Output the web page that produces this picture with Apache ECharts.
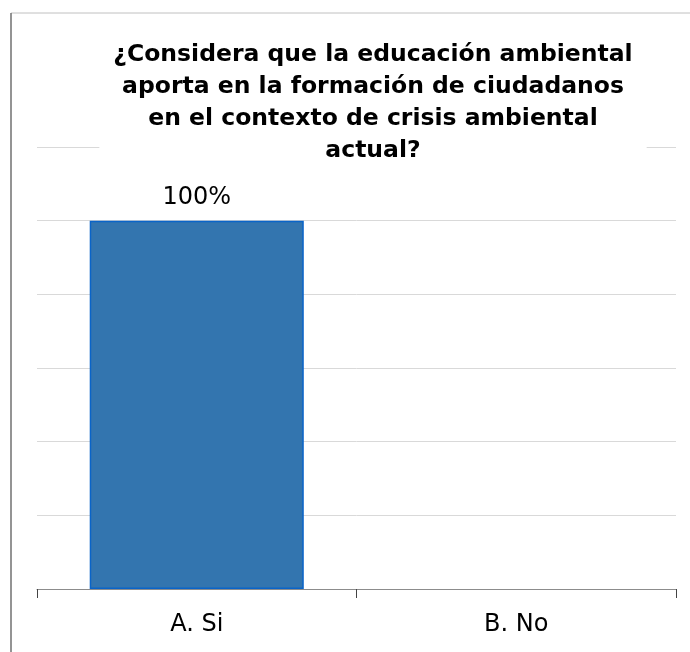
<!DOCTYPE html>
<html>
<head>
<meta charset="utf-8">
<script src="https://cdn.jsdelivr.net/npm/echarts@6/dist/echarts.min.js"></script>
<style>
html, body { margin: 0; padding: 0; background: #fff; }
#chart { width: 690px; height: 652px; }
</style>
</head>
<body>
<div id="chart"></div>
<script>
var categories = ['A. Si', 'B. No'];
var values = [1.0, 0];
var titleText = '¿Considera que la educación ambiental\naporta en la formación de ciudadanos\nen el contexto de crisis ambiental\nactual?';

// barras: sin borde cuando el valor es cero
var barData = values.map(function(v) {
	return {
		value : v,
		itemStyle : { borderWidth : v > 0 ? 1.5 : 0 }
	};
});

var myChart = echarts.init(document.getElementById('chart'));
var option = {
	animation : false,
	backgroundColor : '#fff',
	title : {
		text : titleText,
		left : 359,
		top : 31,
		textAlign : 'center',
		padding : [8, 14, 6, 14],
		backgroundColor : '#fff',
		textStyle : {
			fontFamily : 'DejaVu Sans',
			fontWeight : 'bold',
			fontSize : 23.5,
			lineHeight : 32,
			color : '#000'
		},
		z : 10
	},
	graphic : [{
		type : 'line',
		shape : { x1 : 11, y1 : 13, x2 : 700, y2 : 13 },
		style : { stroke : '#c0c0c0', lineWidth : 1 }
	}, {
		type : 'line',
		shape : { x1 : 11, y1 : 13, x2 : 11, y2 : 700 },
		style : { stroke : '#707070', lineWidth : 1.5 }
	}],
	grid : {
		left : 37,
		right : 14,
		top : 147,
		bottom : 63
	},
	xAxis : {
		type : 'category',
		data : categories,
		axisLine : { lineStyle : { color : '#8c8c8c', width : 1 } },
		axisTick : { show : true, length : 9, lineStyle : { color : '#444' } },
		axisLabel : {
			fontFamily : 'DejaVu Sans',
			fontSize : 24,
			color : '#000',
			margin : 24
		}
	},
	yAxis : {
		type : 'value',
		min : 0,
		max : 1.2,
		interval : 0.2,
		axisLabel : { show : false },
		axisLine : { show : false },
		axisTick : { show : false },
		splitLine : { lineStyle : { color : '#d9d9d9', width : 1 } }
	},
	series : [{
		type : 'bar',
		data : barData,
		barWidth : '67%',
		itemStyle : {
			color : '#3375af',
			borderColor : '#0a64c8'
		},
		label : {
			show : true,
			position : 'top',
			distance : 11,
			fontFamily : 'DejaVu Sans',
			fontSize : 24,
			color : '#000',
			formatter : function(p) {
				return p.value > 0 ? Math.round(p.value * 100) + '%' : '';
			}
		}
	}]
};
myChart.setOption(option);
</script>
</body>
</html>
